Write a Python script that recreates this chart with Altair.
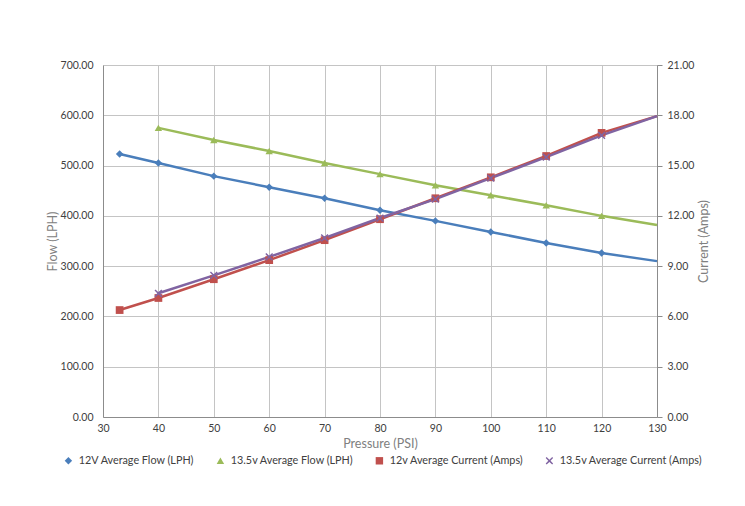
import altair as alt
import pandas as pd

# ---- data ----
series_names = ["12V Average Flow (LPH)", "13.5v Average Flow (LPH)",
                "12v Average Current (Amps)", "13.5v Average Current (Amps)"]
series_colors = ["#4a7ebb", "#9bbb59", "#c0504d", "#8064a2"]

pressure_12v = [33, 40, 50, 60, 70, 80, 90, 100, 110, 120, 130]
pressure_135v = [40, 50, 60, 70, 80, 90, 100, 110, 120, 130]

flow_12v = [523, 505, 479, 457, 435, 411, 390, 368, 346, 326, 310]
flow_135v = [575, 551, 529, 505, 483, 461, 441, 421, 400, 382]
current_12v = [6.38, 7.10, 8.22, 9.36, 10.55, 11.80, 13.05, 14.30, 15.57, 16.95, 17.95]
current_135v = [7.38, 8.45, 9.55, 10.68, 11.87, 13.00, 14.25, 15.50, 16.80, 17.95]

x_ticks = [30, 40, 50, 60, 70, 80, 90, 100, 110, 120, 130]
left_ticks = [0, 100, 200, 300, 400, 500, 600, 700]
right_ticks = [0, 3, 6, 9, 12, 15, 18, 21]


def long(name, xs, ys):
    n = len(xs)
    return pd.DataFrame({"series": [name] * n, "pressure": xs, "value": ys,
                         "marker": [x < 130 for x in xs]})


flow_df = pd.concat([long(series_names[0], pressure_12v, flow_12v),
                     long(series_names[1], pressure_135v, flow_135v)])
cur_df = pd.concat([long(series_names[2], pressure_12v, current_12v),
                    long(series_names[3], pressure_135v, current_135v)])

FONT = "Lato"
GRID = "#c4c4c4"
DOMAIN = "#8c8c8c"

xpath_x = "M-1,-0.75L-0.75,-1L0,-0.3L0.75,-1L1,-0.75L0.3,0L1,0.75L0.75,1L0,0.3L-0.75,1L-1,0.75L-0.3,0Z"
color_scale = alt.Scale(domain=series_names, range=series_colors)
shape_scale = alt.Scale(domain=series_names,
                        range=["diamond", "triangle-up", "square", xpath_x])

x_enc = alt.X("pressure:Q", title="Pressure (PSI)",
              scale=alt.Scale(domain=[30, 130], nice=False),
              axis=alt.Axis(values=x_ticks, grid=True, gridColor=GRID, ticks=False,
                            domainColor=DOMAIN, labelPadding=6, labelFlush=False,
                            titleY=20, titleBaseline="top", titleColor="#808080",
                            titleFontSize=12.5, titleFontWeight="normal"))

legend = alt.Legend(orient="none", legendX=-40, legendY=390, direction="horizontal",
                    columns=4, title=None, labelFont=FONT, labelFontSize=10.8,
                    labelColor="#404040", symbolSize=55, columnPadding=20,
                    symbolStrokeWidth=0, labelOffset=5)

color_enc = alt.Color("series:N", scale=color_scale, legend=legend, sort=series_names)
shape_enc = alt.Shape("series:N", scale=shape_scale, legend=legend, sort=series_names)

y_left = alt.Y("value:Q", title="Flow (LPH)",
               scale=alt.Scale(domain=[0, 700], nice=False),
               axis=alt.Axis(orient="left", values=left_ticks, format=".2f", grid=True,
                             gridColor=GRID, ticks=False, domainColor=DOMAIN,
                             labelPadding=10, titleX=-51, titleY=176,
                             titleAlign="center", titleBaseline="middle",
                             titleColor="#808080", titleFontSize=12.5,
                             titleFontWeight="normal"))
y_right = alt.Y("value:Q", title="Current (Amps)",
                scale=alt.Scale(domain=[0, 21], nice=False),
                axis=alt.Axis(orient="right", values=right_ticks, format=".2f", grid=False,
                              ticks=True, tickSize=5, tickColor=DOMAIN, domainColor=DOMAIN,
                              labelPadding=5, titleX=46, titleY=176, titleAngle=270,
                              titleAlign="center", titleBaseline="middle",
                              titleColor="#808080", titleFontSize=12.5,
                              titleFontWeight="normal"))

flow_line = alt.Chart(flow_df).mark_line(strokeWidth=2.5).encode(
    x=x_enc, y=y_left, color=color_enc)
flow_pts = alt.Chart(flow_df).transform_filter("datum.marker").mark_point(
    filled=True, size=55, opacity=1).encode(x=x_enc, y=y_left, color=color_enc, shape=shape_enc)

cur_line = alt.Chart(cur_df).mark_line(strokeWidth=2.5).encode(
    x=x_enc, y=y_right, color=color_enc)
cur_pts = alt.Chart(cur_df).transform_filter("datum.marker").mark_point(
    filled=True, size=60, opacity=1).encode(x=x_enc, y=y_right, color=color_enc, shape=shape_enc)

left = alt.layer(flow_line, flow_pts)
right = alt.layer(cur_line, cur_pts)

chart = alt.layer(left, right).resolve_scale(y="independent").properties(
    width=554, height=352,
    autosize=alt.AutoSizeParams(type="none"),
    padding={"left": 103, "top": 65, "right": 88, "bottom": 89},
    background="white",
).configure_axis(
    labelFont=FONT, labelFontSize=10.5, labelColor="#404040", titleFont=FONT,
).configure_view(stroke=None)

chart.save("out.html", embed_options={"renderer": "svg", "actions": False})
